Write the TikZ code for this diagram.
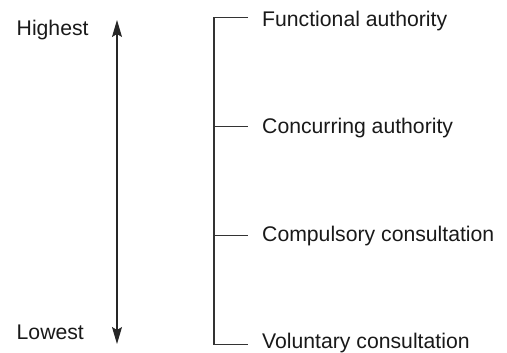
\documentclass[tikz,border=0pt]{standalone}
\usepackage{fontspec}
\setmainfont{Liberation Sans}
\usetikzlibrary{arrows.meta}
\begin{document}
\begin{tikzpicture}[x=1pt,y=-1pt,
  lbl/.style={anchor=base west,inner sep=0pt,font=\fontsize{21.2}{24}\selectfont,text=black!90},
  brk/.style={draw=black!80,line width=1.1pt},
  scalearrow/.style={draw=black!85,line width=1.1pt,{Stealth[length=17pt,width=10pt,inset=3pt]}-{Stealth[length=17pt,width=10pt,inset=3pt]}}]
\useasboundingbox (0,0) rectangle (507,353);
% scale arrow
\coordinate (top) at (117,20);
\coordinate (bot) at (117,344);
\draw[scalearrow] (top) -- (bot);
\node[lbl] (hi) at (16.5,35.3) {Highest};
\node[lbl] (lo) at (16.5,339.3) {Lowest};
% bracket
\coordinate (b1) at (214,17.7);
\coordinate (b2) at (214,126.7);
\coordinate (b3) at (214,235.3);
\coordinate (b4) at (214,344.3);
\coordinate (t1) at (248,17.7);
\coordinate (t2) at (248,126.7);
\coordinate (t3) at (248,235.3);
\coordinate (t4) at (248,344.3);
\draw[brk] (t1) -- (b1) -- (b4) -- (t4);
\draw[brk] (b2) -- (t2);
\draw[brk] (b3) -- (t3);
\node[lbl] (l1) at (262,26.7) {Functional authority};
\node[lbl] (l2) at (262,133.2) {Concurring authority};
\node[lbl] (l3) at (262,241.5) {Compulsory consultation};
\node[lbl] (l4) at (262,348.6) {Voluntary consultation};
\end{tikzpicture}
\end{document}
